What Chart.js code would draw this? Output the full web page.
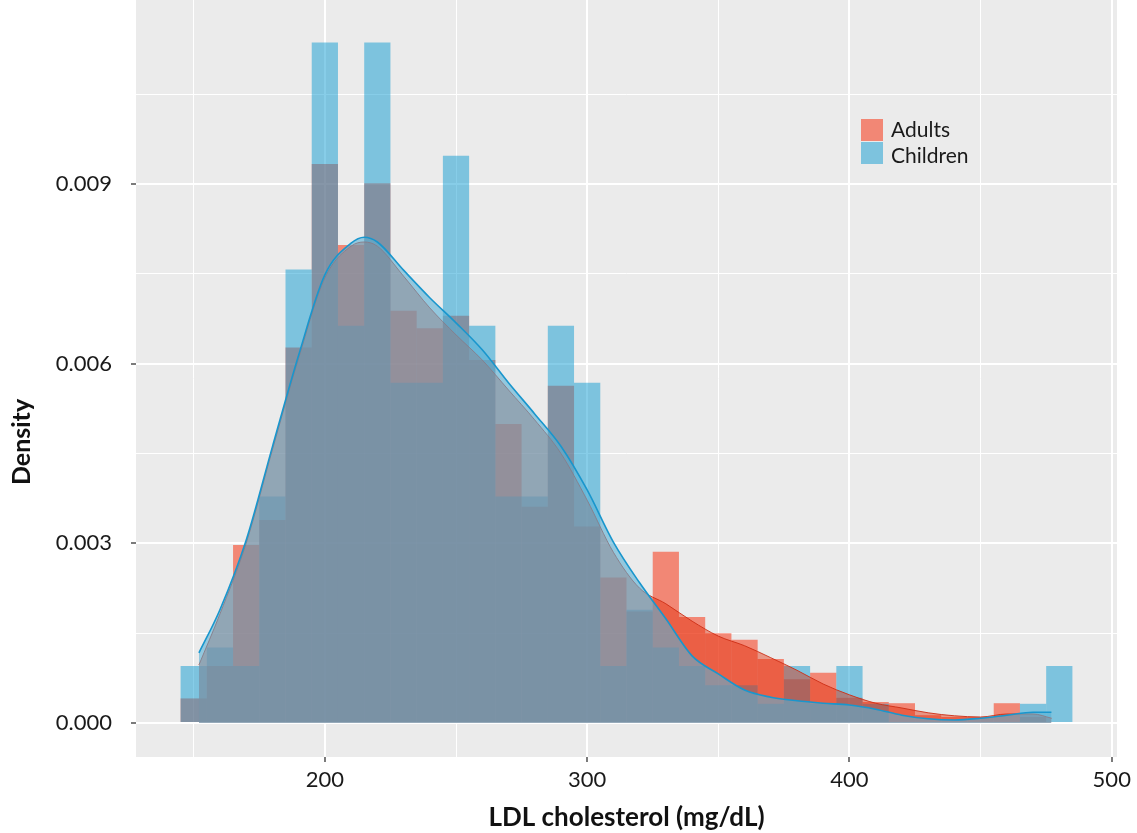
<!DOCTYPE html>
<html>
<head>
<meta charset="utf-8">
<script src="https://cdn.jsdelivr.net/npm/chart.js@4.4.1/dist/chart.umd.min.js"></script>
<style>
  html, body { margin: 0; padding: 0; background: #fff; }
</style>
</head>
<body>
<canvas id="ldl" width="1137" height="833"></canvas>
<script>
// histogram bins, width 10 mg/dL (centres)
const binCentres = [150, 160, 170, 180, 190, 200, 210, 220, 230, 240,
                    250, 260, 270, 280, 290, 300, 310, 320, 330, 340,
                    350, 360, 370, 380, 390, 400, 410, 420, 430, 440,
                    450, 460, 470, 480];
const adultsHist = [0.00041, 0.00095, 0.00297, 0.00339, 0.00627, 0.00933, 0.00798, 0.00901, 0.00688, 0.00659,
                    0.00680, 0.00606, 0.00499, 0.00361, 0.00563, 0.00328, 0.00243, 0.00186, 0.00286, 0.00177,
                    0.00150, 0.00139, 0.00107, 0.00073, 0.00084, 0.00042, 0.00035, 0.00033, 0.00013, 0.00010,
                    0.00010, 0.00033, 0.00010, 0];
const childrenHist = [0.00095, 0.00126, 0.00095, 0.00378, 0.00757, 0.01136, 0.00663, 0.01136, 0.00568, 0.00568,
                      0.00947, 0.00663, 0.00378, 0.00378, 0.00663, 0.00568, 0.00095, 0.00189, 0.00126, 0.00095,
                      0.00063, 0.00063, 0.00032, 0.00095, 0.00032, 0.00095, 0.00032, 0, 0, 0,
                      0, 0, 0.00032, 0.00095];

// kernel density curves
const densX = [152, 160, 170, 180, 190, 200, 210, 215, 220, 230, 240, 250, 260, 270, 280, 290, 300,
               310, 320, 330, 340, 350, 360, 370, 380, 390, 400, 410, 420, 430, 440, 450, 460, 470, 477];
const adultsDens = [0.00097, 0.00182, 0.00300, 0.00456, 0.00609, 0.00743, 0.00796, 0.00803, 0.00796, 0.00746,
                    0.00693, 0.00648, 0.00606, 0.00556, 0.00506, 0.00450, 0.00372, 0.00285, 0.00225, 0.00199,
                    0.00170, 0.00145, 0.00129, 0.00109, 0.00088, 0.00065, 0.00047, 0.00033, 0.00025, 0.00017,
                    0.00012, 0.00010, 0.00015, 0.00015, 0.00008];
const childrenDens = [0.00117, 0.00189, 0.00305, 0.00461, 0.00614, 0.00748, 0.00801, 0.00811, 0.00803, 0.00756,
                      0.00710, 0.00668, 0.00623, 0.00568, 0.00516, 0.00462, 0.00389, 0.00302, 0.00234, 0.00174,
                      0.00112, 0.00082, 0.00055, 0.00043, 0.00037, 0.00033, 0.00030, 0.00023, 0.00013, 0.00007,
                      0.00005, 0.00008, 0.00013, 0.00018, 0.00018];

const xMajor = [200, 300, 400, 500];
const xMinor = [150, 250, 350, 450];
const yMajor = [0, 0.003, 0.006, 0.009];
const yMinor = [0.0015, 0.0045, 0.0075, 0.0105];
const groups = ['Adults', 'Children'];

const PANEL = '#EBEBEB';
const redBar = 'rgba(250, 35, 0, 0.5)';
const blueBar = 'rgba(15, 155, 209, 0.5)';

const pts = (xs, ys) => xs.map((x, i) => ({ x: x, y: ys[i] }));

const panelBg = {
    id: 'panelBg',
    beforeDraw(chart) {
        const { ctx, chartArea: a } = chart;
        ctx.save();
        ctx.fillStyle = PANEL;
        ctx.fillRect(a.left, a.top, a.right - a.left, a.bottom - a.top);
        ctx.restore();
    }
};

// legend inside the panel, top right + y axis title
const extras = {
    id: 'extras',
    afterDraw(chart) {
        const ctx = chart.ctx;
        const cols = [redBar, blueBar];
        ctx.save();
        ctx.font = '21px Lato';
        ctx.textBaseline = 'middle';
        groups.forEach((g, i) => {
            const y = 119 + i * 23;
            ctx.fillStyle = PANEL;
            ctx.fillRect(861, y, 22, 22);
            ctx.fillStyle = cols[i];
            ctx.fillRect(861, y, 22, 22);
            ctx.fillStyle = '#1a1a1a';
            ctx.fillText(g, 891, y + 11 + i * 3);
        });
        // y title sits a bit below the panel centre in the original
        ctx.translate(22, 442);
        ctx.rotate(-Math.PI / 2);
        ctx.font = 'bold 25px Lato';
        ctx.textAlign = 'center';
        ctx.fillStyle = '#111';
        ctx.fillText('Density', 0, 0);
        ctx.restore();
    }
};

const tickVal = c => (c && c.tick) ? c.tick.value : null;
const isMajorX = v => xMajor.includes(v);
const isMajorY = v => yMajor.includes(v);

new Chart(document.getElementById('ldl'), {
    type: 'bar',
    data: {
        datasets: [
            {
                type: 'line', label: 'Children density', order: 1,
                data: pts(densX, childrenDens),
                borderColor: 'rgba(25, 150, 205, 1)', borderWidth: 1.6,
                backgroundColor: 'rgba(88, 176, 213, 0.6)',
                fill: 'origin', pointRadius: 0, cubicInterpolationMode: 'monotone'
            },
            {
                type: 'line', label: 'Adults density', order: 2,
                data: pts(densX, adultsDens),
                borderColor: 'rgba(205, 45, 20, 0.9)', borderWidth: 1,
                backgroundColor: 'rgba(227, 47, 11, 0.45)',
                fill: 'origin', pointRadius: 0, cubicInterpolationMode: 'monotone'
            },
            {
                label: 'Children', order: 3,
                data: pts(binCentres, childrenHist),
                backgroundColor: blueBar, borderWidth: 0,
                grouped: false, barPercentage: 1, categoryPercentage: 1, inflateAmount: 0
            },
            {
                label: 'Adults', order: 4,
                data: pts(binCentres, adultsHist),
                backgroundColor: redBar, borderWidth: 0,
                grouped: false, barPercentage: 1, categoryPercentage: 1, inflateAmount: 0
            }
        ]
    },
    options: {
        responsive: false,
        animation: false,
        devicePixelRatio: 1,
        layout: { padding: { left: 0, right: 20, top: 0, bottom: 0 } },
        plugins: { legend: { display: false }, tooltip: { enabled: false } },
        scales: {
            x: {
                type: 'linear', min: 128, max: 502, offset: false,
                afterBuildTicks: axis => {
                    axis.ticks = xMajor.concat(xMinor).sort((a, b) => a - b).map(v => ({ value: v }));
                },
                afterFit: axis => {
                    axis.height = 76;
                    axis.paddingLeft = 0;
                    axis.paddingRight = 0;
                },
                border: { display: false },
                grid: {
                    offset: false,
                    color: '#ffffff',
                    lineWidth: c => isMajorX(tickVal(c)) ? 2 : 1,
                    tickLength: 5, tickWidth: 1.3,
                    tickColor: c => isMajorX(tickVal(c)) ? '#333' : 'rgba(0,0,0,0)'
                },
                ticks: {
                    autoSkip: false, maxRotation: 0, padding: 5,
                    font: { family: 'Lato', size: 22 }, color: '#1a1a1a',
                    callback: v => isMajorX(v) ? String(v) : ''
                },
                title: {
                    display: true, text: 'LDL cholesterol (mg/dL)',
                    font: { family: 'Lato', size: 26, weight: 'bold' }, color: '#111',
                    padding: { top: 0, bottom: 0 }
                }
            },
            y: {
                type: 'linear', min: -0.000568, max: 0.01207,
                afterBuildTicks: axis => {
                    axis.ticks = yMajor.concat(yMinor).sort((a, b) => a - b).map(v => ({ value: v }));
                },
                afterFit: axis => {
                    axis.width = 136;
                    axis.paddingTop = 0;
                    axis.paddingBottom = 0;
                },
                border: { display: false },
                grid: {
                    color: '#ffffff',
                    lineWidth: c => isMajorY(tickVal(c)) ? 2 : 1,
                    tickLength: 5, tickWidth: 1.3,
                    tickColor: c => isMajorY(tickVal(c)) ? '#333' : 'rgba(0,0,0,0)'
                },
                ticks: {
                    autoSkip: false, padding: 19,
                    font: { family: 'Lato', size: 22 }, color: '#1a1a1a',
                    callback: v => isMajorY(v) ? v.toFixed(3) : ''
                },
                title: { display: false }
            }
        }
    },
    plugins: [panelBg, extras]
});
</script>
</body>
</html>
